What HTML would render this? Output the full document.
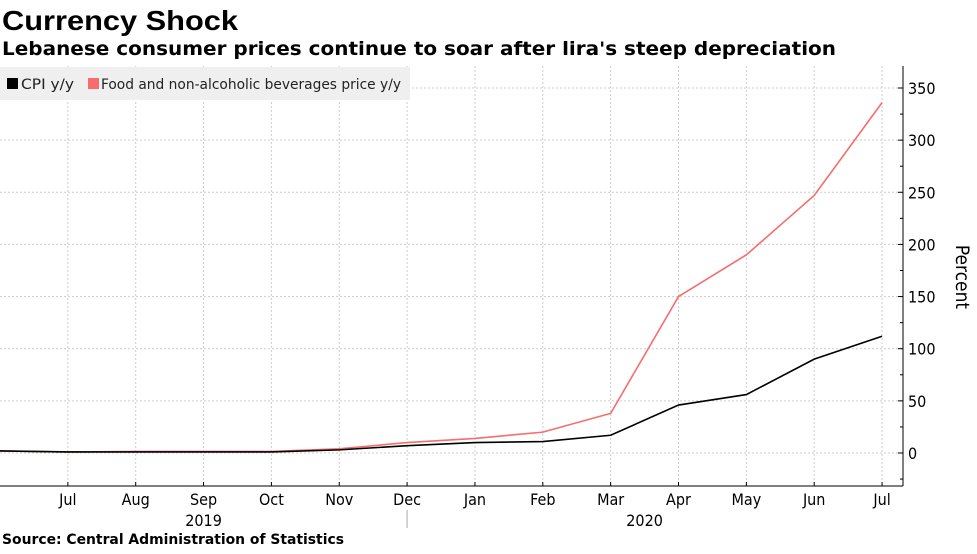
<!DOCTYPE html>
<html><head><meta charset="utf-8"><style>
body{margin:0;background:#fff;width:977px;height:549px;overflow:hidden;font-family:"Liberation Sans",sans-serif}
svg text{font-family:"DejaVu Sans Condensed","DejaVu Sans","Liberation Sans",sans-serif}
</style></head><body>
<svg width="977" height="549">
<text x="2" y="30" font-size="28" font-weight="bold" fill="#000" textLength="236" lengthAdjust="spacingAndGlyphs" style="font-family:'Liberation Sans',sans-serif">Currency Shock</text>
<text x="2" y="55" font-size="19" font-weight="bold" fill="#000" textLength="834" lengthAdjust="spacingAndGlyphs">Lebanese consumer prices continue to soar after lira's steep depreciation</text>
<g id="grid"></g>
<g id="axes"></g>
<g id="series"></g>
<g>
<rect x="0" y="67" width="410" height="33" fill="#efefef"/>
<rect x="7" y="78" width="11" height="11" fill="#000"/>
<text x="21" y="89" font-size="14" fill="#222" textLength="53" lengthAdjust="spacingAndGlyphs">CPI y/y</text>
<rect x="88" y="78" width="11" height="11" fill="#f76c6c"/>
<text x="101" y="89" font-size="14" fill="#222" textLength="300" lengthAdjust="spacingAndGlyphs">Food and non-alcoholic beverages price y/y</text>
</g>
<text transform="translate(956,277) rotate(90)" font-size="19" fill="#000" text-anchor="middle">Percent</text>
<text x="2" y="544" font-size="14" font-weight="bold" fill="#000" textLength="342" lengthAdjust="spacingAndGlyphs">Source: Central Administration of Statistics</text>
</svg>
<script>
const months=["Jun","Jul","Aug","Sep","Oct","Nov","Dec","Jan","Feb","Mar","Apr","May","Jun","Jul"];
const cpi=[2,1,1,1,1,3,7,10,11,17,46,56,90,112];
const food=[2,1,1.5,1.5,1.5,4,10,14,20,38,150,190,247,336];
const yTicks=[0,50,100,150,200,250,300,350];
const years=["2019","2020"];
const NS="http://www.w3.org/2000/svg";
const X0=0,DX=67.85,Y0=453,DY=(453-88)/350,AX=903,TOP=66,BOT=486;
const xs=i=>X0+i*DX, ys=v=>Y0-v*DY;
function mk(t,a,p){const e=document.createElementNS(NS,t);for(const k in a)e.setAttribute(k,a[k]);p.appendChild(e);return e;}
const g=document.getElementById('grid'),ax=document.getElementById('axes'),s=document.getElementById('series');
yTicks.forEach(v=>{
 const l=mk('line',{x1:0,x2:AX,y1:ys(v),y2:ys(v),stroke:'#ccc','stroke-dasharray':'2,2'},g);
 
 
 const t=mk('line',{x1:AX-5,x2:AX,y1:ys(v),y2:ys(v),stroke:'#000'},ax);
 
 
 const m=mk('line',{x1:AX-3,x2:AX,y1:ys(v-25),y2:ys(v-25),stroke:'#000'},ax);
 
 
 const tx=mk('text',{x:AX+5,y:ys(v)+6,'font-size':16,fill:'#000'},ax);
 tx.textContent=v;
 
 
});
months.forEach((m,i)=>{
 if(i===0)return;
 const l=mk('line',{x1:xs(i),x2:xs(i),y1:TOP,y2:BOT,stroke:'#ccc','stroke-dasharray':'2,2'},g);
 
 
 const t=mk('line',{x1:xs(i),x2:xs(i),y1:BOT,y2:BOT-4,stroke:'#000'},ax);
 
 
 const tx=mk('text',{x:xs(i),y:505,'font-size':16,fill:'#000','text-anchor':'middle'},ax);
 tx.textContent=m;
 
 
});
[[xs(3),years[0]],[xs(9.5),years[1]]].forEach(([x,y])=>{
 const tx=mk('text',{x:x,y:526,'font-size':16,fill:'#000','text-anchor':'middle'},ax);
 tx.textContent=y;
 
 
});
const sep=mk('line',{x1:xs(6),x2:xs(6),y1:510,y2:528,stroke:'#aaa'},ax);


const xa=mk('line',{x1:0,x2:AX,y1:BOT,y2:BOT,stroke:'#000'},ax);


const ya=mk('line',{x1:AX,x2:AX,y1:TOP,y2:BOT,stroke:'#000'},ax);


const fp=mk('polyline',{points:food.map((v,i)=>xs(i)+','+ys(v)).join(' '),fill:'none',stroke:'#f76c6c','stroke-width':1.6},s);


const cp=mk('polyline',{points:cpi.map((v,i)=>xs(i)+','+ys(v)).join(' '),fill:'none',stroke:'#000','stroke-width':1.6},s);


</script>
</body></html>
